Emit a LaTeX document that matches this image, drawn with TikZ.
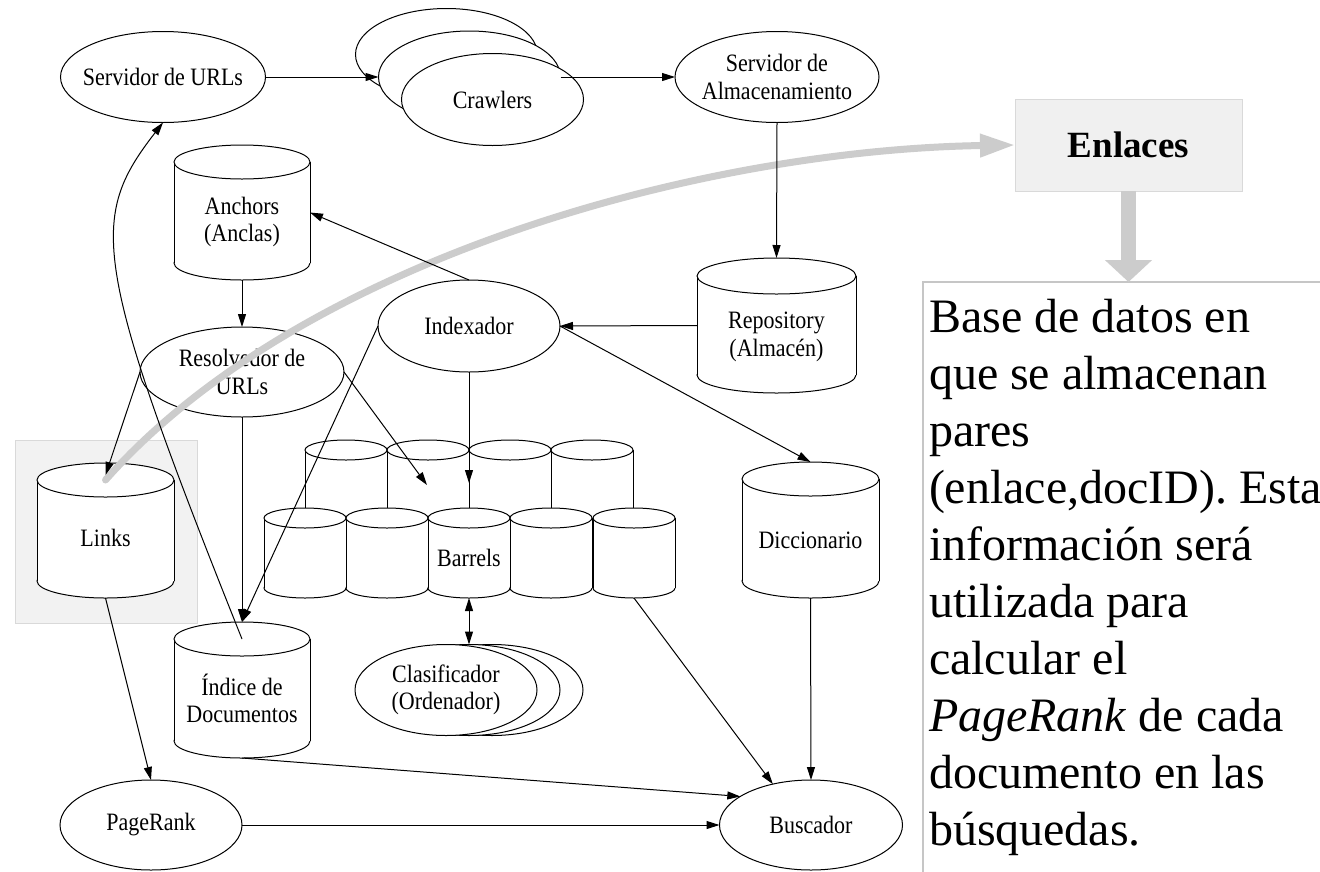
\documentclass[tikz,border=0pt]{standalone}
\usepackage{fontspec}
\setmainfont{Liberation Serif}
\newfontfamily\lblfont[FakeStretch=0.88]{Liberation Serif}
\usetikzlibrary{shapes.geometric,arrows.meta,calc}

% database drum: name, centre x, top y, bottom y, width, cap radius
\newcommand{\dbcyl}[6]{%
  \pgfmathsetmacro\cylX{#2}%
  \pgfmathsetmacro\cylT{#3+#6}%
  \pgfmathsetmacro\cylB{#4-#6}%
  \pgfmathsetmacro\cylR{#5/2}%
  \pgfmathsetmacro\cylL{#2-#5/2}%
  \pgfmathsetmacro\cylE{#2+#5/2}%
  \pgfmathsetmacro\cylM{(#3+#4)/2}%
  \pgfmathsetmacro\cylH{#4-#3}%
  \filldraw[cylline, fill=white] (\cylX,\cylB) ellipse[x radius=\cylR, y radius=#6];
  \fill[white] (\cylL,\cylT) rectangle (\cylE,\cylB);
  \draw[cylline] (\cylL,\cylT) -- (\cylL,\cylB) (\cylE,\cylT) -- (\cylE,\cylB);
  \filldraw[cylline, fill=white] (\cylX,\cylT) ellipse[x radius=\cylR, y radius=#6];
  \node[minimum width=#5, minimum height=\cylH] (#1) at (\cylX,\cylM) {};
}

\begin{document}
\begin{tikzpicture}[x=1pt, y=-1pt,
  every node/.style={inner sep=0pt, outer sep=0pt},
  proc/.style={ellipse, draw, fill=white, line width=1pt},
  lbl/.style={font=\lblfont\fontsize{25}{27.5}\selectfont, align=center},
  big/.style={font=\fontsize{48}{57}\selectfont, anchor=base west},
  arr/.style={line width=1pt, -{Triangle[length=13pt,width=8pt]}},
  darr/.style={line width=1pt, {Triangle[length=13pt,width=8pt]}-{Triangle[length=13pt,width=8pt]}},
  cylline/.style={line width=1pt},
  shade/.style={draw=gray!40, line width=7pt, line cap=round},
  panel/.style={draw=gray!30, fill=gray!10, line width=1pt}
]
\useasboundingbox (0,0) rectangle (1320,871);
\fill[white] (0,0) rectangle (1320,871);

% side panels
\node[panel, minimum width=182, minimum height=183, anchor=north west] (linksbox) at (15,440) {};
\node[draw=gray!45, fill=white, line width=1.5pt, minimum width=430, minimum height=620, anchor=north west] (desc) at (923,282) {};
\node[panel, fill=gray!12, minimum width=227, minimum height=92,
      font=\fontsize{37}{44}\selectfont\bfseries] (enl) at (1128.5,145) {Enlaces};

% processes
\node[proc, minimum width=205, minimum height=91] (url) at (163,77) {};
\node[proc, minimum width=182, minimum height=92] (crw3) at (446.5,54.5) {};
\node[proc, minimum width=182, minimum height=92] (crw2) at (469.5,77) {};
\node[proc, minimum width=182, minimum height=92] (crw1) at (492.5,99.5) {};
\node[proc, minimum width=204, minimum height=91] (alm) at (777,77) {};
\node[proc, minimum width=204, minimum height=90] (res) at (242,372) {};
\node[proc, minimum width=182, minimum height=92] (idx) at (469,326) {};
\node[proc, minimum width=182, minimum height=91] (cls3) at (492,690) {};
\node[proc, minimum width=182, minimum height=91] (cls2) at (469,690) {};
\node[proc, minimum width=182, minimum height=91] (cls1) at (446,690) {};
\node[proc, minimum width=182, minimum height=90] (pr) at (151,825) {};
\node[proc, minimum width=183, minimum height=90] (busc) at (811,825) {};

% stores
\dbcyl{anc}{242}{145}{280}{136}{17}
\dbcyl{repo}{776.5}{258}{393}{159}{18}
\dbcyl{dic}{810.5}{462}{598}{137}{17}
\dbcyl{links}{105.5}{463}{598}{137}{17}
\dbcyl{doc}{242}{622}{758}{136}{17}
% barrels, back row then front row
\dbcyl{t1}{346}{440}{560}{82}{10}
\dbcyl{t2}{428}{440}{560}{82}{10}
\dbcyl{t3}{510}{440}{560}{82}{10}
\dbcyl{t4}{592}{440}{560}{82}{10}
\dbcyl{b1}{305}{508}{598}{82}{10}
\dbcyl{b2}{387}{508}{598}{82}{10}
\dbcyl{b3}{469}{508}{598}{82}{10}
\dbcyl{b4}{551}{508}{598}{82}{10}
\dbcyl{b5}{634}{508}{598}{82}{10}

% labels
\node[lbl] (url-t) at (url) {Servidor de URLs};
\node[lbl] (crw-t) at (crw1) {Crawlers};
\node[lbl] (alm-t) at (alm) {Servidor de\\Almacenamiento};
\node[lbl] (res-t) at (res) {Resolvedor de\\URLs};
\node[lbl] (idx-t) at (idx) {Indexador};
\node[lbl] (cls-t) at (cls1) {Clasificador\\(Ordenador)};
\node[lbl] (pr-t) at (pr) {PageRank};
\node[lbl] (busc-t) at (busc) {Buscador};
\node[lbl] (anc-t) at (242,222) {Anchors\\(Anclas)};
\node[lbl] (repo-t) at (776.5,337) {Repository\\(Almacén)};
\node[lbl] (dic-t) at (810.5,540) {Diccionario};
\node[lbl] (links-t) at (105.5,538) {Links};
\node[lbl] (doc-t) at (242,698.5) {Índice de\\Documentos};
\node[lbl] (bar-t) at (469,558) {Barrels};

% description text
\node[big] (d1) at (929,332) {Base de datos en};
\node[big] (d2) at (929,389) {que se almacenan};
\node[big] (d3) at (929,446) {pares};
\node[big] (d4) at (929,503) {(enlace,docID). Esta};
\node[big] (d5) at (929,560) {información será};
\node[big] (d6) at (929,617) {utilizada para};
\node[big] (d7) at (929,674) {calcular el};
\node[big] (d8) at (929,731) {\textit{PageRank} de cada};
\node[big] (d9) at (929,788) {documento en las};
\node[big] (d10) at (929,845) {búsquedas.};

% highlight from Links to the Enlaces note
\draw[shade, -{Triangle[length=35pt,width=22pt]}]
  ($(links.north)+(0,17)$) .. controls (300,260) and (700,150) .. (enl.west);

% data flow
\coordinate (barin) at (469,483);
\coordinate (barin2) at (427,485);
\draw[arr] (url.east) -- (crw2.west);
\draw[arr] (crw2.east) -- (alm.west);
\draw[arr] (alm.south) -- (repo.north);
\draw[arr] (repo.west) -- (idx.east);
\draw[arr] (idx.north) -- (anc.east);
\draw[arr] (anc.south) -- (res.north);
\draw[arr] (idx.east) -- (dic.north);
\draw[arr] (idx.south) -- (barin);
\draw[arr] (res.east) -- (barin2);
\draw[arr] (res.west) -- ($(links.north)+(0,12)$);
\draw[arr] (res.south) -- (doc.north);
\draw[arr] (idx.west) -- (doc.north);
\draw[arr] ($(doc.north)+(0,17)$) .. controls (90,259) and (89,218) .. (url.south);
\draw[arr] (links.south) -- (pr.north);
\draw[arr] (pr.east) -- (busc.west);
\draw[arr] (doc.south) -- (busc.158);
\draw[arr] (b5.south) -- (busc.133);
\draw[arr] (dic.south) -- (busc.north);
\draw[darr] (b3.south) -- (cls2.north);

% note pointer
\draw[draw=gray!40, line width=15.5pt, -{Triangle[length=22pt,width=46pt]}]
  (enl.south) -- (enl.south |- desc.north);
\end{tikzpicture}
\end{document}
